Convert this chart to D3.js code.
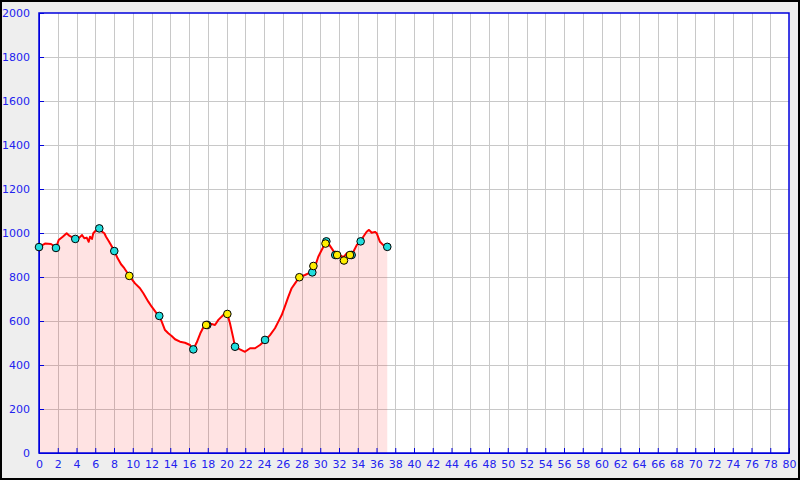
<!DOCTYPE html>
<html><head><meta charset="utf-8">
<script src="https://cdn.jsdelivr.net/npm/d3@7"></script>
<style>
html,body{margin:0;padding:0;background:#fff;}
svg{display:block;}
</style></head>
<body>
<svg id="c" width="800" height="480"></svg>
<script>
// Profile: distance (x) and elevation (y)
const distance = [0,0.64,1.28,1.6,1.81,2.1,2.53,2.95,3.23,3.59,3.87,4.3,4.59,4.83,5.09,5.3,5.44,5.65,5.79,6.01,6.15,6.43,6.72,6.97,7.15,7.43,7.68,8.03,8.39,8.75,9.1,9.35,9.63,10.24,10.77,11.13,11.66,12.02,12.55,12.83,13.09,13.44,13.79,14.15,14.51,15.04,15.57,16.11,16.46,16.82,17.25,17.6,17.89,18.42,18.77,19.13,19.66,20.09,20.37,20.73,20.91,21.44,21.97,22.51,23.04,23.57,24.11,24.64,25.17,25.53,25.89,26.24,26.59,26.95,27.31,27.77,28.37,28.91,29.15,29.44,29.79,30.15,30.56,30.86,31.22,31.57,32.29,32.53,32.82,33.17,33.53,33.89,34.31,34.59,34.95,35.2,35.49,35.84,36.02,36.37,36.72,37.15];
const elevation = [936,952,950,941,932,968,983,999,988,979,973,979,991,976,979,960,983,973,999,1009,1014,1021,1006,999,983,964,945,918,885,858,840,824,805,771,749,726,688,665,635,623,597,559,544,532,517,506,501,491,471,502,548,577,582,586,582,605,627,632,590,521,483,471,460,476,476,491,511,536,567,597,627,668,710,749,771,799,809,820,821,847,892,923,955,953,930,908,895,892,908,900,915,945,962,983,1006,1014,1001,1005,999,960,945,937];
// Cyan markers
const cyanX = [0,1.81,3.87,6.43,8.03,12.83,16.46,17.95,20.91,24.11,29.15,30.65,31.6,33.35,34.31,37.15];
const cyanY = [936,932,973,1021,918,623,471,582,483,514,821,962,900,900,962,937];
// Yellow markers
const yellowX = [9.63,17.83,20.09,27.77,29.27,30.56,31.8,32.53,33.17];
const yellowY = [805,582,632,799,850,952,900,875,900];
// Tick labels
const xTicks = d3.range(0, 81, 2);
const yTicks = d3.range(0, 2001, 200);

const W = 800, H = 480;
const m = {left: 39, top: 13, right: 789, bottom: 453};
const svg = d3.select("#c");

svg.append("rect").attr("x",1).attr("y",1).attr("width",W-2).attr("height",H-2)
  .attr("fill","#eeeeee").attr("stroke","#000").attr("stroke-width",2);

const x = d3.scaleLinear().domain([0,80]).range([m.left, m.right]);
const y = d3.scaleLinear().domain([0,2000]).range([m.bottom, m.top]);

svg.append("rect").attr("x",m.left).attr("y",m.top)
  .attr("width",m.right-m.left).attr("height",m.bottom-m.top).attr("fill","#fff");

// grid
const g = svg.append("g").attr("stroke","#c8c8c8").attr("stroke-width",1).attr("shape-rendering","crispEdges");
xTicks.slice(1,-1).forEach(t=>g.append("line").attr("x1",Math.round(x(t))+0.5).attr("x2",Math.round(x(t))+0.5).attr("y1",m.top).attr("y2",m.bottom));
yTicks.slice(1,-1).forEach(t=>g.append("line").attr("y1",Math.round(y(t))+0.5).attr("y2",Math.round(y(t))+0.5).attr("x1",m.left).attr("x2",m.right));

const pts = distance.map((d,i)=>[d, elevation[i]]);
svg.append("path").datum(pts)
  .attr("d", d3.area().x(d=>x(d[0])).y0(y(0)).y1(d=>y(d[1])))
  .attr("fill","rgba(255,0,0,0.11)");
svg.append("path").datum(pts)
  .attr("d", d3.line().x(d=>x(d[0])).y(d=>y(d[1])))
  .attr("fill","none").attr("stroke","#ff0000").attr("stroke-width",2).attr("stroke-linejoin","round");

// axes
const axisColor = "#0000dd", textColor = "#2222ee";
const xAxis = d3.axisBottom(x).tickValues(xTicks).tickFormat(d3.format("d")).tickSizeInner(-5).tickSizeOuter(0).tickPadding(8);
const yAxis = d3.axisLeft(y).tickValues(yTicks).tickFormat(d3.format("d")).tickSizeInner(-5).tickSizeOuter(0).tickPadding(9);
const gx = svg.append("g").attr("transform",`translate(0,${m.bottom})`).call(xAxis);
const gy = svg.append("g").attr("transform",`translate(${m.left},0)`).call(yAxis);
[gx,gy].forEach(a=>{
  a.selectAll("path,line").attr("stroke",axisColor);
  a.selectAll("text").attr("fill",textColor).style("font-family","DejaVu Sans").style("font-size","11px");
});
gx.selectAll("text").attr("dy","0.6em");
// frame
svg.append("rect").attr("x",m.left).attr("y",m.top).attr("width",m.right-m.left).attr("height",m.bottom-m.top)
  .attr("fill","none").attr("stroke",axisColor).attr("stroke-width",1.5);

// markers
const mk = svg.append("g");
cyanX.forEach((d,i)=>mk.append("circle").attr("cx",x(d)).attr("cy",y(cyanY[i])).attr("r",3.8)
  .attr("fill","#22dddd").attr("stroke","#000").attr("stroke-width",1));
yellowX.forEach((d,i)=>mk.append("circle").attr("cx",x(d)).attr("cy",y(yellowY[i])).attr("r",3.8)
  .attr("fill","#ffee00").attr("stroke","#000").attr("stroke-width",1));
</script>
</body></html>
